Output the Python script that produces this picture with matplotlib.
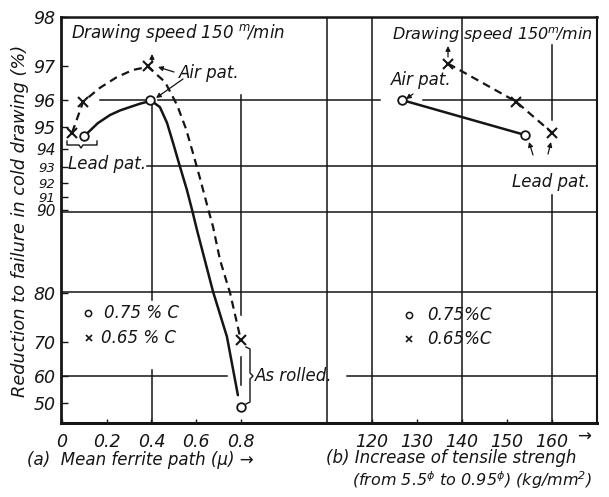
import numpy as np
import matplotlib
matplotlib.use('Agg')
import matplotlib.pyplot as plt

# ---------------- data ----------------
# (a) Mean ferrite path (micron) -- measured points
a_c075_x = [0.10, 0.395, 0.80]
a_c075_y = [94.6, 96.0, 48.2]
a_c065_x = [0.045, 0.095, 0.385, 0.80]
a_c065_y = [94.75, 95.95, 97.0, 70.4]
# (a) hand-drawn curves
a_c075_curve_x = [0.10, 0.16, 0.215, 0.26, 0.304, 0.35, 0.38, 0.395, 0.438, 0.47,
                  0.497, 0.528, 0.559, 0.582, 0.604, 0.676, 0.738, 0.787]
a_c075_curve_y = [94.6, 95.15, 95.47, 95.64, 95.76, 95.88, 95.94, 96.0, 95.76, 95.16,
                  94.28, 93.02, 91.53, 90.0, 88.17, 80.2, 71.2, 53.1]
a_c065_curve_x = [0.045, 0.095, 0.17, 0.246, 0.318, 0.385, 0.461, 0.515, 0.555,
                  0.586, 0.617, 0.649, 0.676, 0.707, 0.752, 0.787, 0.80]
a_c065_curve_y = [94.75, 95.95, 96.39, 96.70, 96.89, 96.97, 96.56, 95.83, 94.91,
                  93.78, 92.34, 90.41, 88.47, 84.82, 80.0, 73.4, 70.4]
# (b) Increase of tensile strength (kg/mm2)
b_c075_x = [126.7, 154.0]
b_c075_y = [96.0, 94.65]
b_c065_x = [136.9, 152.0, 160.0]
b_c065_y = [97.05, 95.95, 94.75]

y_ticks = [50, 60, 70, 80, 90, 91, 92, 93, 94, 95, 96, 97, 98]
a_ticks = [0, 0.2, 0.4, 0.6, 0.8]
a_tick_labels = ['0', '0.2', '0.4', '0.6', '0.8']
b_ticks = [120, 130, 140, 150, 160]
b_tick_labels = ['120', '130', '140', '150', '160']

# ---------------- style ----------------
plt.rcParams['font.family'] = ['DejaVu Sans']
plt.rcParams['font.style'] = 'italic'
plt.rcParams['mathtext.fontset'] = 'dejavusans'
plt.rcParams['mathtext.default'] = 'it'
K = '#151515'

W, H = 609, 497
fig = plt.figure(figsize=(W / 100, H / 100), dpi=100)
L, R, T, B = 61, 597, 17, 423
ax = fig.add_axes([L / W, 1 - B / H, (R - L) / W, (B - T) / H])

PXU = 223.5  # pixels per unit of (a)
X0 = 62      # pixel of (a) = 0


def b2x(b):
    # shared horizontal frame: (b) scale placed to the right of (a)
    return (372 + (b - 120) * 4.5 - X0) / PXU


def fx(px):
    return (px - L) / (R - L)


def fy(py):
    return (B - py) / (B - T)


def fwd(y):
    return -np.log10(np.clip(100 - np.asarray(y, dtype=float), 1e-9, None))


def inv(v):
    return 100 - 10 ** (-np.asarray(v, dtype=float))


ax.set_yscale('function', functions=(fwd, inv))
ax.set_ylim(40.84, 98)
ax.set_xlim((L - X0) / PXU, (R - X0) / PXU)

# ---------------- grid (segments, axes fraction) ----------------
glw = 1.1
hsegs = [(100, 100, 145), (100, 158, 380), (100, 423, 597),
         (166, 147, 597), (212, 61, 597), (292, 61, 597),
         (376, 61, 227), (376, 347, 597)]
for py, x0, x1 in hsegs:
    ax.plot([fx(x0), fx(x1)], [fy(py), fy(py)], transform=ax.transAxes,
            color=K, lw=glw, zorder=1)
vsegs = [(152, 100, 300), (152, 370, 423), (241, 95, 315), (241, 357, 385),
         (327, 17, 423), (372, 17, 423), (462, 17, 423),
         (552, 45, 120), (552, 195, 423)]
for px, y0, y1 in vsegs:
    ax.plot([fx(px), fx(px)], [fy(y0), fy(y1)], transform=ax.transAxes,
            color=K, lw=glw, zorder=1)

# ---------------- curves ----------------
lw = 1.6
dash = (3.6, 2.4)
ax.plot(a_c075_curve_x, a_c075_curve_y, color=K, lw=lw + 0.2, zorder=3,
        solid_capstyle='round', solid_joinstyle='round')
ax.plot(a_c065_curve_x, a_c065_curve_y, color=K, lw=lw, ls=(0, dash), zorder=3)
bx075 = [b2x(v) for v in b_c075_x]
bx065 = [b2x(v) for v in b_c065_x]
ax.plot(bx075, b_c075_y, color=K, lw=lw + 0.2, zorder=3)
ax.plot(bx065, b_c065_y, color=K, lw=lw, ls=(0, dash), zorder=3)

# ---------------- markers ----------------
mo = dict(marker='o', ms=6.2, mfc='white', mec=K, mew=1.3, ls='none', zorder=5)
mx = dict(marker='x', ms=6.5, mec=K, mew=1.5, ls='none', zorder=5)
ax.plot(a_c075_x, a_c075_y, **mo)
ax.plot(a_c065_x, a_c065_y, **mx)
ax.plot(bx075, b_c075_y, **mo)
ax.plot(bx065, b_c065_y, **mx)

# ---------------- ticks ----------------
ax.set_yticks(y_ticks)
ax.set_yticklabels([str(v) for v in y_ticks])
ax.set_xticks(a_ticks + [b2x(b) for b in b_ticks])
ax.set_xticklabels(a_tick_labels + b_tick_labels)
ax.yaxis.set_minor_locator(matplotlib.ticker.NullLocator())
ax.tick_params(axis='both', direction='in', length=5, width=1, colors=K,
               labelsize=12.5)
ax.tick_params(axis='y', pad=4)
ax.tick_params(axis='x', pad=7, length=3)
for v, lab in zip(y_ticks, ax.get_yticklabels()):
    if v in (91, 92, 93):
        lab.set_fontsize(9.5)
    elif v in (90, 94):
        lab.set_fontsize(11)
for s in ax.spines.values():
    s.set_color(K)
ax.spines['left'].set_linewidth(2.0)
ax.spines['bottom'].set_linewidth(2.2)
ax.spines['top'].set_linewidth(1.8)
ax.spines['right'].set_linewidth(1.5)

# ---------------- texts ----------------
fs = 12


def txt(px, py, s, size=fs, ha='left', **kw):
    ax.text(fx(px), fy(py), s, transform=ax.transAxes, ha=ha, va='center',
            fontsize=size, color=K, style='italic', **kw)


txt(71, 33, r'Drawing speed 150 $^{m}\!$/min')
txt(392, 35, r'Drawing speed 150$^{m}\!$/min', size=11.5)
txt(179, 73, 'Air pat.')
txt(68, 164, 'Lead pat.')
txt(255, 376, 'As rolled.')
txt(391, 80, 'Air pat.')
txt(512, 182, 'Lead pat.')

# legends
ax.plot([fx(88)], [fy(313)], transform=ax.transAxes, marker='o', ms=4.5,
        mfc='white', mec=K, mew=1.1, ls='none')
ax.plot([fx(89)], [fy(338)], transform=ax.transAxes, marker='x', ms=4.5,
        mec=K, mew=1.2, ls='none')
txt(104, 313, '0.75 % C')
txt(101, 338, '0.65 % C')
ax.plot([fx(409)], [fy(315)], transform=ax.transAxes, marker='o', ms=4.5,
        mfc='white', mec=K, mew=1.1, ls='none')
ax.plot([fx(409)], [fy(339)], transform=ax.transAxes, marker='x', ms=5,
        mec=K, mew=1.2, ls='none')
txt(427, 315, '0.75%C')
txt(427, 339, '0.65%C')

# arrows
ap = dict(arrowstyle='-|>', lw=0.9, color=K, mutation_scale=7,
          shrinkA=0, shrinkB=0)


def arrow(x0, y0, x1, y1):
    ax.annotate('', xy=(fx(x1), fy(y1)), xytext=(fx(x0), fy(y0)),
                xycoords='axes fraction', textcoords='axes fraction',
                arrowprops=ap)


arrow(174, 72, 158, 67)
arrow(183, 79, 156, 98)
arrow(152, 63, 152, 54)
arrow(413, 94, 406, 99)
arrow(448, 57, 448, 46)
arrow(533, 155, 529, 142)
arrow(548, 154, 551, 142)

# braces
bx = [67, 67, 79, 81, 83, 97, 97]
by = [141, 145, 145, 148, 145, 145, 141]
ax.plot([fx(v) for v in bx], [fy(v) for v in by], transform=ax.transAxes,
        color=K, lw=1.0)
rx = [246, 250, 250, 253, 250, 250, 246]
ry = [347, 349, 373, 376, 379, 402, 404]
ax.plot([fx(v) for v in rx], [fy(v) for v in ry], transform=ax.transAxes,
        color=K, lw=1.0)

# axis labels
fig.text(20 / W, 1 - 221 / H, 'Reduction to failure in cold drawing (%)',
         rotation=90, ha='center', va='center', fontsize=12.8, color=K,
         style='italic')
fig.text(27 / W, 1 - 460 / H, r'(a)  Mean ferrite path (μ) →', ha='left',
         va='center', fontsize=12, color=K, style='italic')
fig.text(326 / W, 1 - 458 / H, '(b) Increase of tensile strengh', ha='left',
         va='center', fontsize=12, color=K, style='italic')
fig.text(352 / W, 1 - 480 / H,
         r'(from 5.5$^{\phi}$ to 0.95$^{\phi}$) (kg/mm$^{2}$)', ha='left',
         va='center', fontsize=11.5, color=K, style='italic')
fig.text(577 / W, 1 - 437 / H, '→', ha='left', va='center', fontsize=12,
         color=K)

fig.savefig('out.png', dpi=100, facecolor='white')
